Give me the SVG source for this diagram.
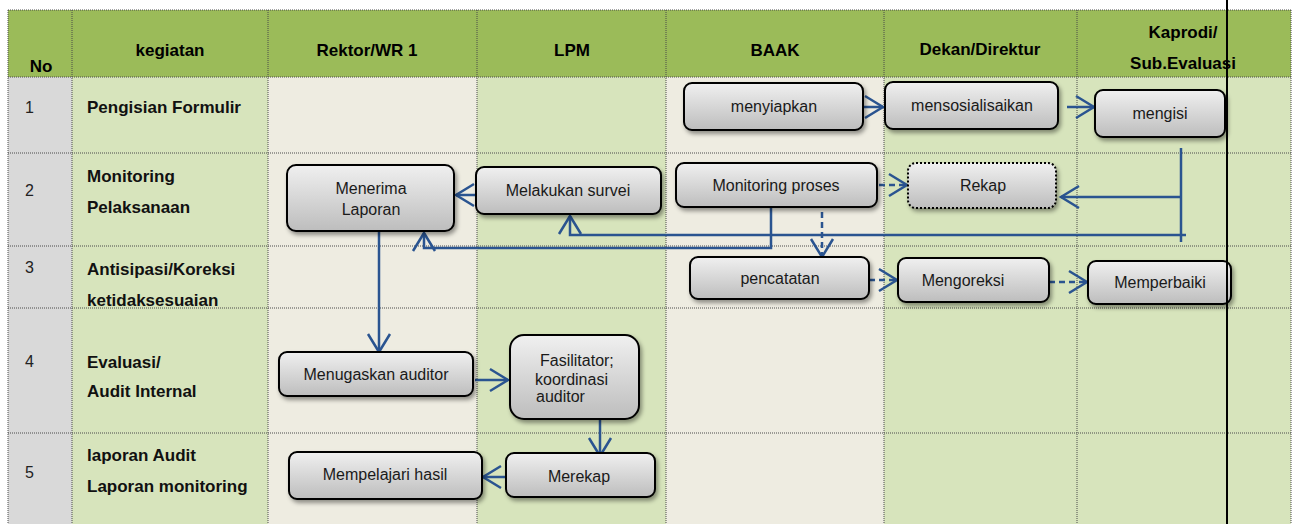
<svg xmlns="http://www.w3.org/2000/svg" width="1293" height="524" viewBox="0 0 1293 524">
<style>
.grid{stroke:#4a4a4a;stroke-width:1;stroke-dasharray:1 1;fill:none}
.hd{font-family:"Liberation Sans",Arial,sans-serif;font-size:17px;font-weight:bold;fill:#000;text-anchor:middle}
.lb{font-family:"Liberation Sans",Arial,sans-serif;font-size:17px;font-weight:bold;fill:#111}
.num{font-family:"Liberation Sans",Arial,sans-serif;font-size:16px;fill:#222}
.nt{font-family:"Liberation Sans",Arial,sans-serif;font-size:16px;fill:#1a1a1a;text-anchor:middle}
.nts{font-family:"Liberation Sans",Arial,sans-serif;font-size:16px;fill:#1a1a1a}
.box{fill:url(#g);stroke:#000;stroke-width:2;filter:url(#sh)}
.dot{stroke-dasharray:2 2}
.c{stroke:#2A5490;stroke-width:2.5;fill:none}
.a{marker-end:url(#ah)}
.d{stroke-dasharray:6 4}
</style>
<defs>
<linearGradient id="g" x1="0" y1="0" x2="0" y2="1">
<stop offset="0" stop-color="#F0F0F0"/>
<stop offset="1" stop-color="#BDBDBD"/>
</linearGradient>
<filter id="sh" x="-10%" y="-20%" width="130%" height="160%">
<feDropShadow dx="2" dy="3" stdDeviation="2" flood-color="#000" flood-opacity="0.4"/>
</filter>
<marker id="ah" markerUnits="userSpaceOnUse" markerWidth="24" markerHeight="26" viewBox="-20 -13 22 26" refX="0" refY="0" orient="auto">
<path d="M -18 -11 L 0 0 L -18 11" fill="none" stroke="#2A5490" stroke-width="2.5"/>
</marker>
</defs>

<g id="table">
<rect x="8" y="10" width="1283" height="67" fill="#9BBB59"/>
<rect x="8" y="77" width="64" height="447" fill="#D9D9D9"/>
<rect x="72" y="77" width="196" height="447" fill="#D7E4BC"/>
<rect x="268" y="77" width="209" height="447" fill="#EEECE1"/>
<rect x="477" y="77" width="189" height="447" fill="#D7E4BC"/>
<rect x="666" y="77" width="218" height="447" fill="#EEECE1"/>
<rect x="884" y="77" width="407" height="447" fill="#D7E4BC"/>
<path class="grid" d="M8 10V524M72 10V524M268 10V524M477 10V524M666 10V524M884 10V524M1077 10V524M1291 10V524M8 10H1291M8 77H1291M8 153H1291M8 246H1291M8 308H1291M8 433H1291"/>
<text class="hd" x="41" y="72">No</text>
<text class="hd" x="170" y="56">kegiatan</text>
<text class="hd" x="367" y="56">Rektor/WR 1</text>
<text class="hd" x="572" y="56">LPM</text>
<text class="hd" x="775" y="56">BAAK</text>
<text class="hd" x="980" y="55">Dekan/Direktur</text>
<text class="hd" x="1183" y="38">Kaprodi/</text>
<text class="hd" x="1183" y="69">Sub.Evaluasi</text>
<text class="num" x="25" y="113">1</text>
<text class="num" x="25" y="196">2</text>
<text class="num" x="25" y="273">3</text>
<text class="num" x="25" y="367">4</text>
<text class="num" x="25" y="478">5</text>
<text class="lb" x="87" y="113">Pengisian Formulir</text>
<text class="lb" x="87" y="182">Monitoring</text>
<text class="lb" x="87" y="213">Pelaksanaan</text>
<text class="lb" x="87" y="275">Antisipasi/Koreksi</text>
<text class="lb" x="87" y="306">ketidaksesuaian</text>
<text class="lb" x="87" y="368">Evaluasi/</text>
<text class="lb" x="87" y="397">Audit Internal</text>
<text class="lb" x="87" y="461">laporan Audit</text>
<text class="lb" x="87" y="492">Laporan monitoring</text>
</g>

<g id="connectors">
<path class="c a" d="M863 107H883"/>
<path class="c a" d="M1067 107H1094"/>
<path class="c" d="M1181 148V242"/>
<path class="c a" d="M1181 197H1061"/>
<path class="c a" d="M1186 235H570V216"/>
<path class="c a" d="M771 207V248H424V233"/>
<path class="c a" d="M476 195H456"/>
<path class="c d a" d="M849 185H907"/>
<path class="c d a" d="M822 212V257"/>
<path class="c d a" d="M819 280H897"/>
<path class="c d a" d="M1049 282H1087"/>
<path class="c a" d="M379 231V352"/>
<path class="c a" d="M475 380H508"/>
<path class="c a" d="M600 419V456"/>
<path class="c a" d="M506 477H483"/>
</g>

<g id="n-menyiapkan"><rect class="box" x="684" y="83" width="179" height="47" rx="8"/><text class="nt" x="774" y="112">menyiapkan</text></g>
<g id="n-mensosialisaikan"><rect class="box" x="885" y="82" width="173" height="47" rx="8"/><text class="nt" x="972" y="111">mensosialisaikan</text></g>
<g id="n-mengisi"><rect class="box" x="1095" y="90" width="130" height="47" rx="8"/><text class="nt" x="1160" y="119">mengisi</text></g>
<g id="n-menerima"><rect class="box" x="287" y="165" width="167" height="66" rx="9"/><text class="nt" x="371" y="194">Menerima</text><text class="nt" x="371" y="215">Laporan</text></g>
<g id="n-survei"><rect class="box" x="476" y="167" width="185" height="47" rx="8"/><text class="nt" x="568" y="196">Melakukan survei</text></g>
<g id="n-monitoring"><rect class="box" x="676" y="163" width="201" height="44" rx="8"/><text class="nt" x="776" y="191">Monitoring proses</text></g>
<g id="n-rekap"><rect class="box dot" x="908" y="163" width="148" height="45" rx="8"/><text class="nt" x="983" y="191">Rekap</text></g>
<g id="n-pencatatan"><rect class="box" x="690" y="257" width="179" height="42" rx="8"/><text class="nt" x="780" y="284">pencatatan</text></g>
<g id="n-mengoreksi"><rect class="box" x="898" y="258" width="151" height="44" rx="8"/><text class="nt" x="963" y="286">Mengoreksi</text></g>
<g id="n-memperbaiki"><rect class="box" x="1088" y="261" width="143" height="43" rx="8"/><text class="nt" x="1160" y="288">Memperbaiki</text></g>
<g id="n-menugaskan"><rect class="box" x="279" y="352" width="194" height="44" rx="8"/><text class="nt" x="376" y="380">Menugaskan auditor</text></g>
<g id="n-fasilitator"><rect class="box" x="510" y="335" width="129" height="84" rx="14"/><text class="nts" x="540" y="366">Fasilitator;</text><text class="nts" x="535" y="385">koordinasi</text><text class="nts" x="536" y="402">auditor</text></g>
<g id="n-merekap"><rect class="box" x="506" y="453" width="149" height="44" rx="8"/><text class="nt" x="579" y="482">Merekap</text></g>
<g id="n-mempelajari"><rect class="box" x="289" y="452" width="193" height="47" rx="8"/><text class="nt" x="385" y="480">Mempelajari hasil</text></g>

<path id="divider" d="M1227 0V524" stroke="#000" stroke-width="2"/>
</svg>
